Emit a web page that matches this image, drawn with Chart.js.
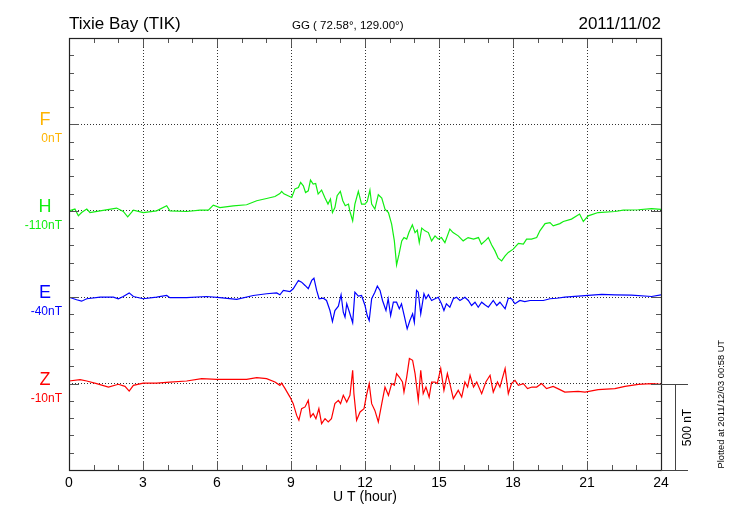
<!DOCTYPE html>
<html>
<head>
<meta charset="utf-8">
<script src="https://cdn.jsdelivr.net/npm/chart.js@4.4.1/dist/chart.umd.min.js"></script>
<style>
  body { margin: 0; background: #fff; }
  #wrap { width: 730px; height: 520px; }
</style>
</head>
<body>
<div id="wrap"><canvas id="mychart" width="730" height="520"></canvas></div>
<script>
// station / header text
var station = 'Tixie Bay (TIK)';
var coords = 'GG ( 72.58\u00b0, 129.00\u00b0)';
var day = '2011/11/02';
var plotted = 'Plotted at 2011/12/03 00:58 UT';

// x axis: hours UT
var hourTicks = [0, 3, 6, 9, 12, 15, 18, 21, 24];

// components (top to bottom) and their base-value labels
var comps = ['F', 'H', 'E', 'Z'];
var compBase = ['0nT', '-110nT', '-40nT', '-10nT'];
var compColor = ['#ffb400', '#11ee11', '#0000ff', '#ff0000'];
var compOffset = [2000, 1500, 1000, 500];   // nT, where each trace sits on the 2500 nT axis

// H component, deviation in nT
var hHours = [0,0.24,0.38,0.51,0.72,0.85,1.26,1.93,2.2,2.38,
  2.61,3.01,3.55,3.96,4.09,4.77,5.31,5.65,5.85,6.12,
  6.66,7.2,7.61,8.01,8.35,8.55,8.62,8.71,9.03,9.16,
  9.3,9.39,9.5,9.59,9.7,9.79,9.9,10.0,10.1,10.24,
  10.38,10.5,10.6,10.68,10.78,10.87,11.0,11.1,11.2,11.33,
  11.39,11.5,11.59,11.73,11.86,12.0,12.09,12.2,12.27,12.4,
  12.54,12.68,12.81,12.95,13.08,13.19,13.28,13.38,13.49,13.58,
  13.69,13.78,13.92,14.03,14.12,14.2,14.3,14.43,14.57,14.7,
  14.84,14.97,15.1,15.24,15.44,15.57,15.78,15.98,16.18,16.4,
  16.6,16.72,16.9,17.0,17.13,17.27,17.4,17.54,17.68,17.81,
  18.01,18.22,18.42,18.55,18.75,18.96,19.09,19.3,19.5,19.63,
  19.9,20.04,20.37,20.7,20.85,21.05,21.45,22.13,22.47,23.08,
  23.62,24];
var hNT = [0,10,-29,-10,10,-10,0,16,-4,-35,
  4,-10,0,29,0,-4,4,4,33,19,
  29,35,58,71,83,100,112,98,77,127,
  135,164,145,106,116,178,155,158,97,120,
  74,39,68,-10,19,87,112,58,29,39,
  -4,-58,39,112,39,39,54,120,39,10,
  93,74,10,-10,-77,-174,-313,-251,-174,-155,
  -164,-126,-81,-126,-112,-184,-100,-116,-126,-174,
  -145,-164,-155,-184,-106,-126,-145,-174,-155,-164,
  -155,-193,-170,-155,-197,-232,-274,-290,-261,-241,
  -222,-189,-193,-164,-164,-155,-116,-74,-68,-87,
  -74,-62,-48,-19,-62,-29,-10,-4,4,6,
  13,8];

// E component, deviation in nT
var eHours = [0,0.31,0.51,0.72,1.26,1.8,2.0,2.2,2.44,2.61,
  3.01,3.55,3.96,4.09,4.77,5.58,6.12,6.8,7.47,8.01,
  8.42,8.55,8.69,8.96,9.09,9.3,9.43,9.57,9.7,9.84,
  9.93,10.04,10.14,10.31,10.44,10.58,10.68,10.78,10.92,11.03,
  11.12,11.19,11.26,11.36,11.5,11.59,11.73,11.86,12.0,12.09,
  12.17,12.27,12.4,12.5,12.61,12.71,12.85,12.94,13.04,13.15,
  13.28,13.39,13.48,13.59,13.71,13.82,13.93,14.0,14.09,14.16,
  14.26,14.39,14.47,14.57,14.7,14.84,14.97,15.1,15.2,15.3,
  15.44,15.58,15.71,15.85,16.05,16.19,16.32,16.46,16.59,16.73,
  16.86,17.0,17.2,17.34,17.47,17.68,17.81,17.94,18.08,18.28,
  18.48,18.69,18.96,19.23,19.5,19.77,20.1,21.05,21.6,22.13,
  22.8,23.62,24];
var eNT = [0,-15,-23,-9,0,0,-9,4,25,4,
  -9,0,10,-3,-3,4,-3,-13,10,20,
  25,14,39,33,49,97,87,68,49,97,
  110,39,-9,-6,-19,-77,-141,-77,-52,14,
  -87,-116,-38,-83,-148,29,6,10,-48,-106,
  -135,-9,29,64,39,-19,-77,-9,-106,-29,
  -29,-67,-38,-106,-183,-135,-96,-145,39,29,
  -96,20,-9,14,-19,-9,0,-38,-77,-38,
  -58,-9,0,-19,0,-19,-48,-29,-58,-29,
  -44,-58,-19,-48,-29,-67,-6,-9,-38,-19,
  -25,-19,-19,-19,-9,-6,0,10,16,14,
  12,4,14];

// Z component, deviation in nT
var zHours = [0,0.45,0.72,1.12,1.6,2.0,2.27,2.44,2.61,3.01,
  3.55,4.09,4.77,5.38,5.99,6.66,7.2,7.61,8.01,8.35,
  8.55,8.62,8.76,8.96,9.09,9.23,9.32,9.43,9.57,9.7,
  9.79,9.9,10.01,10.13,10.24,10.38,10.51,10.64,10.78,10.92,
  11.01,11.12,11.26,11.39,11.5,11.55,11.66,11.8,11.96,12.06,
  12.17,12.27,12.4,12.54,12.68,12.81,12.95,13.08,13.19,13.28,
  13.39,13.52,13.58,13.69,13.8,13.93,14.03,14.16,14.26,14.36,
  14.47,14.6,14.7,14.84,14.93,15.07,15.2,15.34,15.44,15.58,
  15.78,15.92,16.05,16.16,16.26,16.4,16.53,16.73,16.9,17.07,
  17.2,17.37,17.47,17.68,17.81,17.94,18.08,18.22,18.42,18.59,
  18.77,18.96,19.16,19.36,19.63,19.9,20.1,20.64,20.92,21.45,
  22.13,22.54,23.08,23.62,24];
var zNT = [15,23,15,0,-20,-4,-16,-43,-10,3,
  3,9,15,29,25,25,25,35,29,9,
  -10,3,-29,-78,-116,-184,-212,-145,-135,-97,
  -193,-174,-203,-145,-232,-203,-222,-203,-116,-97,
  -116,-68,-107,-68,77,-58,-212,-164,-145,-68,
  0,-116,-155,-222,-116,-20,-68,0,-10,58,
  38,9,-49,38,145,135,58,-97,77,-58,
  -20,-78,9,9,0,87,-39,58,0,-87,
  -39,-78,9,-20,48,-20,9,-58,9,48,
  -49,9,-20,87,-58,0,19,-10,0,-29,
  -20,-20,0,-29,-16,-35,-49,-45,-49,-35,
  -29,-16,-4,0,-4];

var scaleBar = 500; // nT

function toPoints(hours, vals, offset) {
    var pts = [];
    var n = Math.min(hours.length, vals.length);
    for (var i = 0; i < n; i++) {
        pts.push({x: hours[i], y: vals[i] + offset});
    }
    return pts;
}

function trace(label, hours, vals, idx) {
    return {
        label: label,
        data: toPoints(hours, vals, compOffset[idx]),
        borderColor: compColor[idx],
        borderWidth: 1.2,
        pointRadius: 0,
        tension: 0,
        fill: false
    };
}

var FONT = "'Liberation Sans', Arial, Helvetica, sans-serif";
Chart.defaults.font.family = FONT;
Chart.defaults.color = '#000';

// frame, inward tick marks, headers, component labels, scale bar
var decorations = {
    id: 'decorations',
    afterDraw: function(chart) {
        var ctx = chart.ctx;
        var a = chart.chartArea;
        var xs = chart.scales.x, ys = chart.scales.y;
        ctx.save();

        // minor / major ticks pointing inside
        ctx.strokeStyle = '#555';
        ctx.lineWidth = 1;
        ctx.beginPath();
        for (var h = 0; h <= 24; h++) {
            var px = Math.round(xs.getPixelForValue(h)) + 0.5;
            var len = (h % 3 === 0) ? 9 : 5;
            ctx.moveTo(px, a.top); ctx.lineTo(px, a.top + len);
            ctx.moveTo(px, a.bottom); ctx.lineTo(px, a.bottom - len);
        }
        for (var v = 0; v <= 2500; v += 100) {
            var py = Math.round(ys.getPixelForValue(v)) + 0.5;
            var l2 = (v % 500 === 0) ? 10 : 5;
            ctx.moveTo(a.left, py); ctx.lineTo(a.left + l2, py);
            ctx.moveTo(a.right, py); ctx.lineTo(a.right - l2, py);
        }
        ctx.stroke();

        // frame
        ctx.strokeStyle = '#222';
        ctx.lineWidth = 1.2;
        ctx.strokeRect(Math.round(a.left) + 0.5, Math.round(a.top) + 0.5,
            Math.round(a.right - a.left), Math.round(a.bottom - a.top));

        // header
        ctx.fillStyle = '#000';
        ctx.textBaseline = 'alphabetic';
        ctx.font = '17px ' + FONT;
        ctx.textAlign = 'left';
        ctx.fillText(station, a.left, 29);
        ctx.textAlign = 'right';
        ctx.fillText(day, a.right, 29);
        ctx.font = '11.5px ' + FONT;
        ctx.textAlign = 'left';
        ctx.fillText(coords, 292, 29);

        // component names and base values
        for (var i = 0; i < comps.length; i++) {
            var by = ys.getPixelForValue(compOffset[i]);
            ctx.fillStyle = compColor[i];
            ctx.textAlign = 'center';
            ctx.font = '18px ' + FONT;
            ctx.fillText(comps[i], 45, by + 1);
            ctx.textAlign = 'right';
            ctx.font = '12px ' + FONT;
            ctx.fillText(compBase[i], 62, by + 18);
        }

        // 500 nT scale bar
        var y0 = Math.round(ys.getPixelForValue(0)) + 0.5;
        var y1 = Math.round(ys.getPixelForValue(scaleBar)) + 0.5;
        var bx = Math.round(a.right) + 14.5;
        ctx.strokeStyle = '#444';
        ctx.lineWidth = 1;
        ctx.beginPath();
        ctx.moveTo(a.right, y1); ctx.lineTo(a.right + 27, y1);
        ctx.moveTo(a.right, y0); ctx.lineTo(a.right + 27, y0);
        ctx.moveTo(bx, y1); ctx.lineTo(bx, y0);
        ctx.stroke();

        ctx.fillStyle = '#000';
        ctx.save();
        ctx.translate(a.right + 30, (y0 + y1) / 2);
        ctx.rotate(-Math.PI / 2);
        ctx.textAlign = 'center';
        ctx.font = '12px ' + FONT;
        ctx.fillText(scaleBar + ' nT', 0, 0);
        ctx.restore();

        ctx.save();
        ctx.translate(724, y0 - 2);
        ctx.rotate(-Math.PI / 2);
        ctx.textAlign = 'left';
        ctx.font = '9.3px ' + FONT;
        ctx.fillText(plotted, 0, 0);
        ctx.restore();

        ctx.restore();
    }
};

var ctx = document.getElementById('mychart').getContext('2d');
var myChart = new Chart(ctx, {
    type: 'line',
    data: {
        datasets: [
            trace('H', hHours, hNT, 1),
            trace('E', eHours, eNT, 2),
            trace('Z', zHours, zNT, 3)
        ]
    },
    options: {
        responsive: false,
        animation: false,
        layout: { padding: { left: 69, right: 69, top: 38, bottom: 0 } },
        plugins: {
            legend: { display: false },
            tooltip: { enabled: false }
        },
        scales: {
            x: {
                type: 'linear',
                min: 0,
                max: 24,
                afterBuildTicks: function(s) {
                    s.ticks = hourTicks.map(function(h) { return {value: h}; });
                },
                ticks: { font: { size: 14 }, color: '#000', padding: 5, maxRotation: 0 },
                grid: { color: '#333', lineWidth: 1, drawTicks: false },
                border: { display: false, dash: [1, 2] },
                title: {
                    display: true,
                    text: 'U T (hour)',
                    font: { size: 14 },
                    color: '#000',
                    padding: { top: 0, bottom: 14 }
                },
                afterFit: function(s) { s.height = 50; }
            },
            y: {
                min: 0,
                max: 2500,
                ticks: { display: false, stepSize: 500 },
                grid: { color: '#333', lineWidth: 1, drawTicks: false },
                border: { display: false, dash: [1, 2] },
                afterFit: function(s) { s.width = 0; }
            }
        }
    },
    plugins: [decorations]
});
</script>
</body>
</html>
